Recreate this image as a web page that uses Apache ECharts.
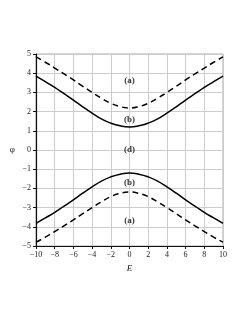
<!DOCTYPE html>
<html><head><meta charset="utf-8">
<script src="https://cdn.jsdelivr.net/npm/echarts@6/dist/echarts.min.js"></script>
<style>html,body{margin:0;padding:0;background:#fff}#c{width:245px;height:317px}</style>
</head><body><div id="c"></div>
<script>
var E = [-10,-9,-8,-7,-6,-5,-4,-3,-2,-1,0,1,2,3,4,5,6,7,8,9,10];
var solidUpper = [3.85,3.56,3.26,2.93,2.6,2.25,1.92,1.62,1.4,1.26,1.2,1.26,1.4,1.62,1.92,2.25,2.6,2.93,3.26,3.56,3.85];
var dashedUpper = [4.85,4.57,4.27,3.96,3.65,3.32,3.0,2.7,2.43,2.26,2.19,2.26,2.43,2.7,3.0,3.32,3.65,3.96,4.27,4.57,4.85];
var solidLower = [-3.82,-3.54,-3.25,-2.92,-2.6,-2.25,-1.92,-1.62,-1.4,-1.26,-1.2,-1.26,-1.4,-1.62,-1.92,-2.25,-2.6,-2.92,-3.25,-3.54,-3.82];
var dashedLower = [-4.8,-4.54,-4.25,-3.95,-3.64,-3.32,-3.0,-2.7,-2.43,-2.26,-2.19,-2.26,-2.43,-2.7,-3.0,-3.32,-3.64,-3.95,-4.25,-4.54,-4.8];
var labelE = [0,0,0,0,0];
var labelPhi = [3.6,1.6,0,-1.7,-3.7];
var labelText = ['(a)','(b)','(d)','(b)','(a)'];

function pairs(xs, ys){ return xs.map(function(x,i){return [x, ys[i]];}); }
var serif = '"Liberation Serif", "DejaVu Serif", serif';
function minus(v){ return String(v).replace('-', '\u2212'); }

var chart = echarts.init(document.getElementById('c'));
var lineBase = function(data, dashed){
  return {type:'line', data:data, smooth:0.5, symbol:'none', silent:true,
    lineStyle:{color:'#000', width:1.5, type: dashed ? [6,4] : 'solid'}};
};
chart.setOption({
  animation:false,
  grid:{left:36, right:22, top:54, bottom:71, show:true, borderColor:'#aaa', borderWidth:1},
  xAxis:{type:'value', min:-10, max:10, interval:2,
    name:'E', nameLocation:'middle', nameGap:18,
    nameTextStyle:{fontFamily:serif, fontStyle:'italic', fontSize:9, color:'#222'},
    axisLine:{show:true, onZero:false, lineStyle:{color:'#111', width:1.2}},
    axisTick:{show:true, length:3, lineStyle:{color:'#111'}},
    axisLabel:{fontFamily:serif, fontSize:8, color:'#222', margin:5, formatter:minus},
    splitLine:{show:true, lineStyle:{color:'#ccc', width:1}}},
  yAxis:{type:'value', min:-5, max:5, interval:1,
    name:'\u03c6', nameLocation:'middle', nameGap:21, nameRotate:0,
    nameTextStyle:{fontFamily:serif, fontSize:9, color:'#222'},
    axisLine:{show:true, onZero:false, lineStyle:{color:'#111', width:1.2}},
    axisTick:{show:true, length:3, lineStyle:{color:'#111'}},
    axisLabel:{fontFamily:serif, fontSize:8, color:'#222', margin:5, formatter:minus},
    splitLine:{show:true, lineStyle:{color:'#ccc', width:1}}},
  series:[
    lineBase(pairs(E, dashedUpper), true),
    lineBase(pairs(E, solidUpper), false),
    lineBase(pairs(E, solidLower), false),
    lineBase(pairs(E, dashedLower), true),
    {type:'scatter', symbolSize:0, silent:true,
      data: labelE.map(function(x,i){return {value:[x, labelPhi[i]], name:labelText[i]};}),
      label:{show:true, position:'inside', formatter:function(p){return p.name;},
        fontFamily:serif, fontWeight:'bold', fontSize:9, color:'#000'}}
  ]
});
</script></body></html>
